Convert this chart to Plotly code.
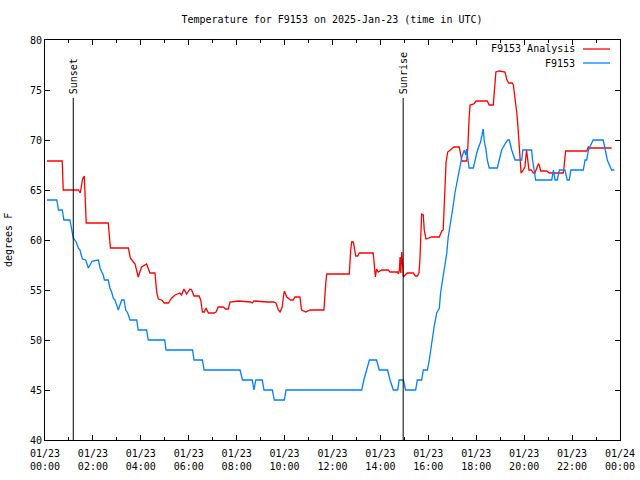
import plotly.graph_objects as go

# ---- data (hours since 2025-01-23 00:00 UTC) ----
analysis_hours = [0.08, 0.72, 0.76, 1.39, 1.47, 1.57, 1.64, 1.72, 2.64, 2.66, 2.73, 3.48, 3.52, 3.56,
                  3.69, 3.76, 3.89, 4.03, 4.24, 4.38, 4.59, 4.66, 4.73, 4.87, 4.98, 5.15, 5.29, 5.43,
                  5.63, 5.70, 5.80, 5.91, 6.05, 6.12, 6.22, 6.43, 6.50, 6.57, 6.65, 6.72, 6.82, 7.05,
                  7.14, 7.23, 7.44, 7.54, 7.65, 7.72, 8.07, 8.58, 8.65, 8.72, 9.28, 9.53, 9.64, 9.74,
                  9.81, 9.90, 9.95, 9.99, 10.04, 10.09, 10.25, 10.36, 10.43, 10.64, 10.71, 10.89,
                  11.06, 11.64, 11.72, 11.76, 12.26, 12.70, 12.76, 12.80, 12.87, 12.91, 12.97, 13.05,
                  13.12, 13.70, 13.73, 13.79, 13.84, 13.91, 14.05, 14.33, 14.40, 14.72, 14.75, 14.79,
                  14.82, 14.85, 14.89, 14.93, 14.96, 15.03, 15.12, 15.37, 15.46, 15.54, 15.61, 15.65,
                  15.68, 15.72, 15.79, 15.83, 15.90, 16.14, 16.46, 16.56, 16.62, 16.65, 16.69, 16.74,
                  16.81, 16.97, 17.07, 17.29, 17.35, 17.40, 17.60, 17.65, 17.70, 17.74, 17.90, 17.99,
                  18.46, 18.54, 18.71, 18.74, 18.82, 18.96, 19.20, 19.27, 19.35, 19.50, 19.55, 19.64,
                  19.69, 19.75, 19.80, 19.87, 19.96, 20.03, 20.10, 20.20, 20.30, 20.38, 20.45, 20.52,
                  20.59, 20.63, 20.69, 20.94, 21.05, 21.63, 21.66, 21.73, 22.61, 22.68, 22.72, 23.65]
analysis_temps = [67.9, 67.9, 65.0, 65.0, 64.7, 66.1, 66.4, 61.7, 61.7, 61.0, 59.2, 59.2, 58.7, 58.2,
                  57.8, 57.6, 56.3, 57.3, 57.6, 56.7, 56.7, 54.8, 54.1, 54.0, 53.7, 53.7, 54.2, 54.5,
                  54.7, 54.5, 55.1, 54.6, 55.1, 55.0, 54.4, 54.4, 54.0, 52.8, 52.8, 53.2, 52.7, 52.7,
                  52.8, 53.3, 53.3, 53.1, 53.1, 53.8, 53.9, 53.8, 53.7, 53.9, 53.8, 53.8, 53.7, 53.0,
                  52.8, 53.3, 54.3, 54.9, 54.6, 54.3, 54.0, 54.0, 54.3, 54.3, 53.0, 52.8,
                  53.0, 53.0, 55.7, 56.6, 56.6, 56.6, 59.0, 59.8, 59.8, 59.0, 58.4, 58.4,
                  58.7, 58.7, 58.1, 56.3, 57.1, 56.8, 57.0, 57.0, 56.8, 56.8, 56.6, 57.0,
                  58.3, 56.7, 58.8, 57.2, 56.3, 56.5, 56.7, 56.7, 56.4, 56.4, 56.7, 58.1,
                  61.0, 62.6, 62.5, 61.0, 60.1, 60.3, 60.3, 60.9, 61.0, 62.7, 65.7, 67.8,
                  68.8, 69.1, 69.3, 69.3, 68.3, 67.9, 67.9, 69.3, 72.1, 73.5, 73.6, 73.9,
                  73.9, 73.5, 73.5, 74.5, 76.8, 76.9, 76.8, 76.1, 75.7, 75.7, 75.5, 73.7,
                  72.8, 71.0, 69.2, 66.7, 67.0, 67.3, 69.0, 67.0, 67.0, 66.7, 66.7, 67.2,
                  67.6, 67.5, 66.9, 66.9, 66.7, 66.7, 67.2, 68.9, 68.9, 69.3, 69.2, 69.2]

obs_hours = [0.08, 0.49, 0.53, 0.56, 0.72, 0.76, 0.79, 1.04, 1.08, 1.11, 1.18, 1.25, 1.32, 1.39,
             1.46, 1.49, 1.56, 1.70, 1.74, 1.81, 1.88, 1.97, 2.23, 2.30, 2.37, 2.43, 2.48, 2.64,
             2.71, 2.78, 2.85, 2.92, 3.06, 3.20, 3.30, 3.37, 3.45, 3.55, 3.83, 3.89, 4.24, 4.31,
             5.00, 5.05, 6.16, 6.22, 6.57, 6.64, 8.14, 8.24, 8.65, 8.72, 8.80, 9.07, 9.14, 9.49,
             9.57, 9.99, 10.06, 13.22, 13.31, 13.38, 13.45, 13.54, 13.84, 13.95, 14.30, 14.40,
             14.54, 14.72, 14.78, 14.96, 15.05, 15.47, 15.54, 15.72, 15.79, 15.96, 16.04, 16.14,
             16.24, 16.35, 16.46, 16.51, 16.60, 16.67, 16.77, 16.83, 16.93, 17.01, 17.11, 17.21,
             17.32, 17.40, 17.50, 17.56, 17.60, 17.64, 17.70, 17.88, 17.95, 18.02, 18.10, 18.18,
             18.29, 18.34, 18.41, 18.46, 18.54, 18.88, 18.96, 19.06, 19.20, 19.31, 19.38, 19.48,
             19.62, 19.90, 19.94, 20.31, 20.35, 20.41, 20.48, 21.15, 21.22, 21.29, 21.38, 21.47,
             21.70, 21.80, 21.88, 21.95, 22.47, 22.54, 22.61, 22.68, 22.88, 23.30, 23.37, 23.47,
             23.65, 23.77]
obs_temps = [64.0, 64.0, 63.5, 63.0, 63.0, 62.5, 62.0, 62.0, 61.5, 61.0, 60.2, 60.0, 59.7, 59.2,
             59.0, 58.7, 58.1, 58.0, 57.7, 57.2, 57.5, 57.9, 58.0, 57.2, 56.8, 56.5, 56.0, 56.0,
             55.2, 54.8, 54.2, 54.0, 53.0, 54.0, 54.0, 53.0, 52.7, 52.0, 52.0, 51.0, 51.0, 50.0,
             50.0, 49.0, 49.0, 48.0, 48.0, 47.0, 47.0, 46.0, 46.0, 45.0, 46.0, 46.0, 45.0, 45.0,
             44.0, 44.0, 45.0, 45.0, 46.0, 46.7, 47.3, 48.0, 48.0, 47.0, 47.0, 46.0,
             45.0, 45.0, 46.0, 46.0, 45.0, 45.0, 46.0, 46.0, 47.0, 47.0, 48.0, 49.7,
             51.3, 52.7, 53.2, 54.7, 56.0, 57.3, 58.7, 60.3, 61.7, 63.0, 64.7, 66.0,
             67.3, 68.3, 69.0, 68.5, 69.1, 68.0, 67.2, 67.2, 68.0, 68.7, 69.3, 69.8,
             71.1, 69.8, 69.0, 68.0, 67.2, 67.2, 68.0, 69.0, 69.6, 70.0, 70.0, 69.0,
             68.0, 68.0, 69.0, 69.0, 68.0, 67.0, 66.0, 66.0, 67.0, 66.0, 66.0, 67.0,
             67.0, 66.0, 66.0, 67.0, 67.0, 68.0, 68.0, 69.0, 70.0, 70.0, 69.0, 68.0,
             67.0, 67.0]

tick_hours = [0, 2, 4, 6, 8, 10, 12, 14, 16, 18, 20, 22, 24]
tick_labels = ["01/23<br>00:00", "01/23<br>02:00", "01/23<br>04:00", "01/23<br>06:00",
               "01/23<br>08:00", "01/23<br>10:00", "01/23<br>12:00", "01/23<br>14:00",
               "01/23<br>16:00", "01/23<br>18:00", "01/23<br>20:00", "01/23<br>22:00",
               "01/24<br>00:00"]
sun_events = ["Sunset", "Sunrise"]
sun_hours = [1.18, 14.95]

RED = "#ff0000"
BLUE = "#0080ff"
FONT = "DejaVu Sans Mono"

fig = go.Figure()
fig.add_trace(go.Scatter(x=analysis_hours, y=analysis_temps, mode="lines",
                         line=dict(color=RED, width=1.3), name="F9153 Analysis",
                         showlegend=False))
fig.add_trace(go.Scatter(x=obs_hours, y=obs_temps, mode="lines",
                         line=dict(color=BLUE, width=1.3), name="F9153",
                         showlegend=False))

for name, h in zip(sun_events, sun_hours):
    fig.add_shape(type="line", xref="x", yref="y", x0=h, x1=h, y0=40, y1=74.2,
                  line=dict(color="black", width=1))
    fig.add_annotation(x=h, y=74.4, xref="x", yref="y", text=name, textangle=-90,
                       showarrow=False, xanchor="center", yanchor="bottom",
                       font=dict(family=FONT, size=10, color="black"))

# legend (gnuplot style: text then sample line on the right)
legend_names = ["F9153 Analysis", "F9153"]
legend_colors = [RED, BLUE]
for i, (nm, col) in enumerate(zip(legend_names, legend_colors)):
    ypx = 9 + 14 * i  # pixels below top of plot area
    yp = 1 - ypx / 400
    fig.add_annotation(x=(577 - 45) / 575, y=yp, xref="paper", yref="paper", text=nm,
                       showarrow=False, xanchor="right", yanchor="middle",
                       font=dict(family=FONT, size=10, color="black"))
    fig.add_shape(type="line", xref="paper", yref="paper",
                  x0=(583 - 45) / 575, x1=(610 - 45) / 575, y0=yp, y1=yp,
                  line=dict(color=col, width=1.3))

fig.add_annotation(x=-37 / 575, y=0.5, xref="paper", yref="paper", text="degrees F",
                   textangle=-90, showarrow=False, xanchor="center", yanchor="middle",
                   font=dict(family=FONT, size=10, color="black"))

fig.update_layout(
    width=640, height=480,
    margin=dict(l=45, r=20, t=40, b=40),
    paper_bgcolor="white", plot_bgcolor="white",
    font=dict(family=FONT, size=10, color="black"),
    title=dict(text="Temperature for F9153 on 2025-Jan-23 (time in UTC)",
               x=332 / 640, xanchor="center", y=1 - 19 / 480, yanchor="middle",
               font=dict(family=FONT, size=10, color="black")),
    showlegend=False,
)
fig.update_xaxes(range=[0, 24], tickvals=tick_hours, ticktext=tick_labels, automargin=False,
                 ticks="inside", ticklen=5, tickcolor="black", showline=True,
                 ticklabelstandoff=4,
                 linecolor="black", linewidth=1, mirror="allticks", showgrid=False,
                 zeroline=False, minor=dict(dtick=1, ticks="inside", ticklen=3,
                                            tickcolor="black"))
fig.update_yaxes(range=[40, 80], dtick=5, tick0=40, ticks="inside", ticklen=5, automargin=False,
                 tickcolor="black", showline=True, linecolor="black", linewidth=1,
                 mirror="allticks", showgrid=False, zeroline=False)

fig.write_html("out.html")
